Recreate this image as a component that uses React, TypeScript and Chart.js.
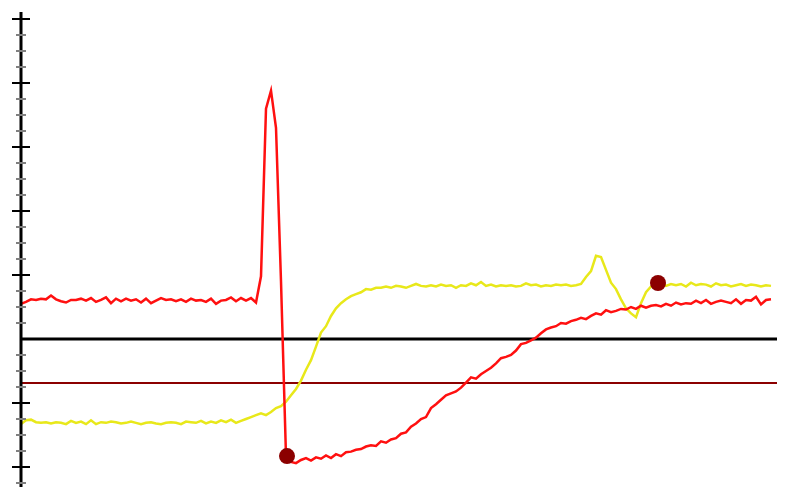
import { useEffect, useRef } from "react";
import { Chart, registerables } from "chart.js";

Chart.register(...registerables);

// x is a sample index (0..150); y is in axis units (one major tick = 1 unit)
const xMin = 0;
const xMax = 151.2;
const yMin = -2.3125;
const yMax = 5.109375;

const redValues = [
  0.55, 0.58, 0.62, 0.61, 0.63, 0.62, 0.68, 0.62, 0.59, 0.57,
  0.61, 0.61, 0.63, 0.60, 0.64, 0.58, 0.61, 0.65, 0.56, 0.63,
  0.59, 0.63, 0.60, 0.62, 0.57, 0.63, 0.56, 0.60, 0.64, 0.61,
  0.62, 0.59, 0.62, 0.58, 0.63, 0.60, 0.61, 0.58, 0.63, 0.55,
  0.60, 0.61, 0.65, 0.59, 0.64, 0.60, 0.64, 0.57, 0.98, 3.60,
  3.88, 3.30, 0.90, -1.83, -1.92, -1.94, -1.89, -1.86, -1.90, -1.85,
  -1.87, -1.82, -1.86, -1.80, -1.83, -1.77, -1.76, -1.73, -1.72, -1.68,
  -1.66, -1.67, -1.60, -1.62, -1.57, -1.55, -1.48, -1.46, -1.37, -1.32,
  -1.25, -1.22, -1.08, -1.02, -0.95, -0.88, -0.85, -0.82, -0.76, -0.68,
  -0.60, -0.62, -0.55, -0.50, -0.45, -0.38, -0.30, -0.28, -0.25, -0.18,
  -0.08, -0.06, -0.02, 0.02, 0.09, 0.15, 0.18, 0.20, 0.25, 0.24,
  0.28, 0.30, 0.33, 0.31, 0.36, 0.40, 0.38, 0.45, 0.42, 0.44,
  0.47, 0.46, 0.50, 0.47, 0.52, 0.49, 0.52, 0.53, 0.51, 0.55,
  0.52, 0.57, 0.54, 0.56, 0.55, 0.60, 0.56, 0.61, 0.55, 0.58,
  0.60, 0.58, 0.56, 0.62, 0.55, 0.61, 0.60, 0.66, 0.54, 0.61,
  0.62,
];

const yellowValues = [
  -1.33, -1.27, -1.26, -1.30, -1.31, -1.30, -1.32, -1.30, -1.31, -1.33,
  -1.28, -1.31, -1.29, -1.33, -1.27, -1.33, -1.30, -1.31, -1.29, -1.30,
  -1.32, -1.31, -1.29, -1.31, -1.33, -1.31, -1.30, -1.32, -1.33, -1.31,
  -1.30, -1.31, -1.33, -1.29, -1.30, -1.31, -1.28, -1.32, -1.29, -1.31,
  -1.27, -1.30, -1.26, -1.31, -1.28, -1.25, -1.22, -1.19, -1.16, -1.19,
  -1.14, -1.08, -1.05, -0.98, -0.88, -0.78, -0.65, -0.48, -0.33, -0.12,
  0.10, 0.20, 0.36, 0.48, 0.56, 0.62, 0.67, 0.70, 0.73, 0.78,
  0.77, 0.80, 0.80, 0.82, 0.80, 0.83, 0.82, 0.80, 0.83, 0.86,
  0.83, 0.82, 0.84, 0.82, 0.85, 0.83, 0.84, 0.80, 0.84, 0.83,
  0.87, 0.84, 0.89, 0.83, 0.85, 0.82, 0.84, 0.83, 0.84, 0.82,
  0.83, 0.87, 0.84, 0.85, 0.82, 0.84, 0.83, 0.85, 0.84, 0.85,
  0.83, 0.84, 0.86, 0.97, 1.06, 1.30, 1.28, 1.08, 0.88, 0.78,
  0.62, 0.48, 0.40, 0.34, 0.56, 0.73, 0.82, 0.86, 0.88, 0.83,
  0.86, 0.84, 0.86, 0.82, 0.88, 0.84, 0.86, 0.85, 0.82, 0.87,
  0.84, 0.85, 0.82, 0.84, 0.86, 0.83, 0.85, 0.84, 0.82, 0.84,
  0.83,
];

const zeroLevel = 0;
const thresholdLevel = -0.6875;
const markerXs = [53.2, 127.4];
const markerYs = [-1.83, 0.875];
const majorTickValues = [-2, -1, 1, 2, 3, 4, 5];
const minorTickValues = [
  -2.25, -1.75, -1.5, -1.25, -0.75, -0.5, -0.25,
  0.25, 0.5, 0.75, 1.25, 1.5, 1.75, 2.25, 2.5, 2.75,
  3.25, 3.5, 3.75, 4.25, 4.5, 4.75,
];

const axisPlugin = {
  id: "crossAxis",
  afterDatasetsDraw(chart: any) {
    const ctx = chart.ctx;
    const y = chart.scales.y;
    const area = chart.chartArea;
    const ax = area.left;
    ctx.save();
    ctx.strokeStyle = "#000";
    ctx.lineWidth = 3;
    ctx.beginPath();
    ctx.moveTo(ax, area.top);
    ctx.lineTo(ax, area.bottom);
    ctx.stroke();
    ctx.strokeStyle = "#808080";
    ctx.lineWidth = 2;
    for (const v of minorTickValues) {
      const p = Math.round(y.getPixelForValue(v));
      ctx.beginPath();
      ctx.moveTo(ax - 5, p);
      ctx.lineTo(ax + 5, p);
      ctx.stroke();
    }
    ctx.strokeStyle = "#000";
    ctx.lineWidth = 2;
    for (const v of majorTickValues) {
      const p = Math.round(y.getPixelForValue(v));
      ctx.beginPath();
      ctx.moveTo(ax - 9, p);
      ctx.lineTo(ax + 9, p);
      ctx.stroke();
    }
    ctx.restore();
  },
};

export default function App() {
  const ref = useRef<HTMLCanvasElement | null>(null);
  useEffect(() => {
    if (!ref.current) return;
    const chart = new Chart(ref.current, {
      type: "line",
      data: {
        datasets: [
          {
            type: "scatter",
            data: markerXs.map((x, i) => ({ x, y: markerYs[i] })),
            backgroundColor: "#8b0000",
            borderWidth: 0,
            pointRadius: 8,
            showLine: false,
            clip: false,
            order: 0,
          } as any,
          {
            data: redValues.map((v, i) => ({ x: i, y: v })),
            borderColor: "#ff1010",
            borderWidth: 2.5,
            pointRadius: 0,
            tension: 0,
            order: 1,
          },
          {
            data: yellowValues.map((v, i) => ({ x: i, y: v })),
            borderColor: "#e8e81a",
            borderWidth: 2.5,
            pointRadius: 0,
            tension: 0,
            order: 2,
          },
          {
            data: [
              { x: xMin, y: zeroLevel },
              { x: xMax, y: zeroLevel },
            ],
            borderColor: "#000",
            borderWidth: 3,
            pointRadius: 0,
            order: 3,
          },
          {
            data: [
              { x: xMin, y: thresholdLevel },
              { x: xMax, y: thresholdLevel },
            ],
            borderColor: "#8b0000",
            borderWidth: 2,
            pointRadius: 0,
            order: 4,
          },
        ],
      },
      options: {
        animation: false,
        responsive: false,
        layout: { autoPadding: false, padding: { left: 21, right: 10, top: 12, bottom: 0 } },
        plugins: { legend: { display: false }, tooltip: { enabled: false } },
        scales: {
          x: { type: "linear", min: xMin, max: xMax, display: false },
          y: { type: "linear", min: yMin, max: yMax, display: false },
        },
      },
      plugins: [axisPlugin],
    });
    return () => chart.destroy();
  }, []);
  return (
    <div style={{ position: "absolute", left: 0, top: 0, width: 787, height: 487, background: "#fff" }}>
      <canvas ref={ref} width={787} height={487} style={{ display: "block" }} />
    </div>
  );
}
